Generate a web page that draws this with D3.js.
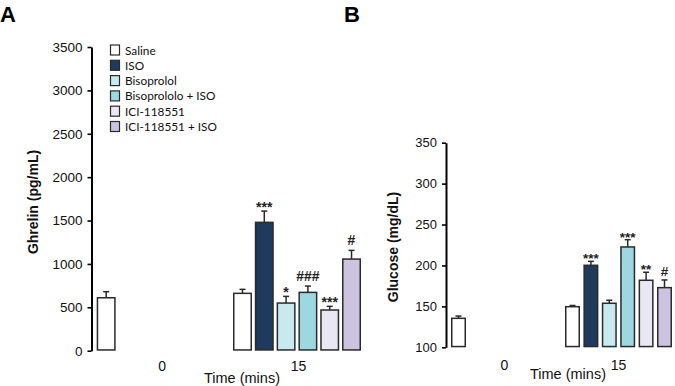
<!DOCTYPE html>
<html>
<head>
<meta charset="utf-8">
<script src="https://cdn.jsdelivr.net/npm/d3@7"></script>
<style>
  html, body { margin: 0; padding: 0; background: #fff; }
  svg { display: block; }
</style>
</head>
<body>
<div id="chart"></div>
<script>
// Données (moyenne + SEM, barre d'erreur vers le haut seulement)
const times = ["0", "15"]
const series = ["Saline", "ISO", "Bisoprolol", "Bisoprololo + ISO", "ICI-118551", "ICI-118551 + ISO"]
const seriesColors = ["#ffffff", "#1e3a5c", "#c8eaee", "#9dd8e0", "#e9e7f3", "#cbc3e0"]

// A : ghréline (pg/mL)
const ghrelin0 = [610]
const ghrelinErr0 = [70]
const ghrelin15 = [661, 1479, 549, 672, 469, 1056]
const ghrelinErr15 = [46, 130, 77, 73, 42, 100]
const ghrelinSig15 = ["", "***", "*", "###", "***", "#"]
const ghrelinTicks = [0, 500, 1000, 1500, 2000, 2500, 3000, 3500]

// B : glucose (mg/dL)
const glucose0 = [135.4]
const glucoseErr0 = [2.8]
const glucose15 = [149.6, 200.2, 153.8, 222.6, 181.9, 172.9]
const glucoseErr15 = [1.5, 4.8, 3.7, 8.9, 9.8, 9.4]
const glucoseSig15 = ["", "***", "", "***", "**", "#"]
const glucoseTicks = [100, 150, 200, 250, 300, 350]

const W = 675, H = 386
const svg = d3.select("#chart").append("svg")
  .attr("width", W).attr("height", H)
  .attr("viewBox", `0 0 ${W} ${H}`)

const FONT = "'Liberation Sans', Arial, sans-serif"
const STROKE = "#2a2a2a"

// Construit les lignes (temps, série, moyenne, err, signif)
function rows(m0, e0, m15, e15, s15) {
  const out = []
  m0.forEach((v, i) => out.push({ t: "0", s: series[i], i, mean: v, err: e0[i], sig: "" }))
  m15.forEach((v, i) => out.push({ t: "15", s: series[i], i, mean: v, err: e15[i], sig: s15[i] }))
  return out
}

function drawPanel(p) {
  const g = svg.append("g")

  const y = d3.scaleLinear().domain(p.domain).range([p.y0, p.y1])
  const x0 = d3.scaleBand().domain(times).range(p.xRange).paddingInner(0)
  const x1 = d3.scaleBand().domain(series).range(p.innerRange).paddingInner(p.pad)

  // Axe Y (pas d'axe X dessiné, comme l'original)
  const axis = g.append("g")
    .attr("transform", `translate(${p.axisX},0)`)
    .call(d3.axisLeft(y).tickValues(p.ticks).tickFormat(d3.format("d"))
      .tickSize(4).tickPadding(5).tickSizeOuter(0))
  axis.select(".domain").attr("stroke", "#000").attr("stroke-width", 2)
  axis.selectAll(".tick line").attr("stroke", "#000").attr("stroke-width", 1.6)
  axis.selectAll(".tick text")
    .attr("font-family", FONT).attr("font-size", p.tickSize).attr("fill", "#111")

  // Titre axe Y
  g.append("text")
    .attr("transform", `translate(${p.yLabelX},${p.yLabelY}) rotate(-90)`)
    .attr("text-anchor", "middle")
    .attr("font-family", FONT).attr("font-weight", "bold").attr("font-size", 14)
    .attr("fill", "#111")
    .text(p.yLabel)

  const data = p.data
  const bx = d => x0(d.t) + x1(d.s)

  // Barres d'erreur (demi-barre supérieure)
  const eb = g.selectAll("g.err").data(data).join("g").attr("class", "err")
  eb.append("line")
    .attr("x1", d => bx(d) + x1.bandwidth() / 2).attr("x2", d => bx(d) + x1.bandwidth() / 2)
    .attr("y1", d => y(d.mean)).attr("y2", d => y(d.mean + d.err))
    .attr("stroke", STROKE).attr("stroke-width", 1.5)
  eb.append("line")
    .attr("x1", d => bx(d) + x1.bandwidth() / 2 - 3).attr("x2", d => bx(d) + x1.bandwidth() / 2 + 3)
    .attr("y1", d => y(d.mean + d.err)).attr("y2", d => y(d.mean + d.err))
    .attr("stroke", STROKE).attr("stroke-width", 1.5)

  // Barres
  g.selectAll("rect.bar").data(data).join("rect")
    .attr("class", "bar")
    .attr("x", d => bx(d) + 0.75)
    .attr("y", d => y(d.mean))
    .attr("width", x1.bandwidth() - 1.5)
    .attr("height", d => y(p.domain[0]) - y(d.mean) - 0.75)
    .attr("fill", d => seriesColors[d.i])
    .attr("stroke", STROKE).attr("stroke-width", 1.5)

  // Significativité
  g.selectAll("text.sig").data(data.filter(d => d.sig)).join("text")
    .attr("class", "sig")
    .attr("x", d => bx(d) + x1.bandwidth() / 2)
    .attr("y", d => y(d.mean + d.err) - p.sigGap + (d.sig.includes("*") ? 6 : 0))
    .attr("text-anchor", "middle")
    .attr("font-family", FONT).attr("font-weight", "bold").attr("font-size", p.sigSize)
    .attr("fill", "#222")
    .text(d => d.sig)

  // Étiquettes des temps
  g.selectAll("text.time").data(times).join("text")
    .attr("class", "time")
    .attr("x", t => x0(t) + x0.bandwidth() / 2 + p.timeShift)
    .attr("y", p.timeY)
    .attr("text-anchor", "middle")
    .attr("font-family", FONT).attr("font-size", 14).attr("fill", "#111")
    .text(t => t)

  g.append("text")
    .attr("x", p.timeTitleX).attr("y", p.timeTitleY)
    .attr("text-anchor", "middle")
    .attr("font-family", FONT).attr("font-size", 14.5).attr("fill", "#111")
    .text("Time (mins)")

  // Lettre du panneau
  g.append("text")
    .attr("x", p.letterX).attr("y", 22)
    .attr("font-family", FONT).attr("font-weight", "bold").attr("font-size", 22)
    .attr("fill", "#000")
    .text(p.letter)
}

drawPanel({
  letter: "A", letterX: 0,
  data: rows(ghrelin0, ghrelinErr0, ghrelin15, ghrelinErr15, ghrelinSig15),
  domain: [0, 3500], y0: 350.7, y1: 47, ticks: ghrelinTicks, tickSize: 13.5,
  axisX: 91.5, xRange: [95, 367.6], innerRange: [1.7, 129.7], pad: 0.13,
  yLabel: "Ghrelin (pg/mL)", yLabelX: 38, yLabelY: 202,
  sigGap: 5, sigSize: 14,
  timeY: 371, timeShift: -1, timeTitleX: 242, timeTitleY: 383
})

drawPanel({
  letter: "B", letterX: 344,
  data: rows(glucose0, glucoseErr0, glucose15, glucoseErr15, glucoseSig15),
  domain: [100, 350], y0: 347.3, y1: 142.7, ticks: glucoseTicks, tickSize: 13,
  axisX: 446, xRange: [449.5, 677.5], innerRange: [1.5, 108.5], pad: 0.185,
  yLabel: "Glucose (mg/dL)", yLabelX: 398, yLabelY: 247,
  sigGap: 4, sigSize: 13.5,
  timeY: 370, timeShift: -2, timeTitleX: 568, timeTitleY: 379
})

// Légende (panneau A)
const legend = svg.append("g").attr("transform", "translate(110,45)")
const li = legend.selectAll("g").data(series).join("g")
  .attr("transform", (_, i) => `translate(0,${i * 15.3})`)
li.append("rect")
  .attr("x", 0.5).attr("y", 0).attr("width", 9).attr("height", 10)
  .attr("fill", (_, i) => seriesColors[i])
  .attr("stroke", STROKE).attr("stroke-width", 1.2)
li.append("text")
  .attr("x", 15).attr("y", 9.5)
  .attr("font-family", "Lato, 'Open Sans', sans-serif").attr("font-size", 11.8)
  .attr("fill", "#111")
  .text(d => d)
</script>
</body>
</html>
